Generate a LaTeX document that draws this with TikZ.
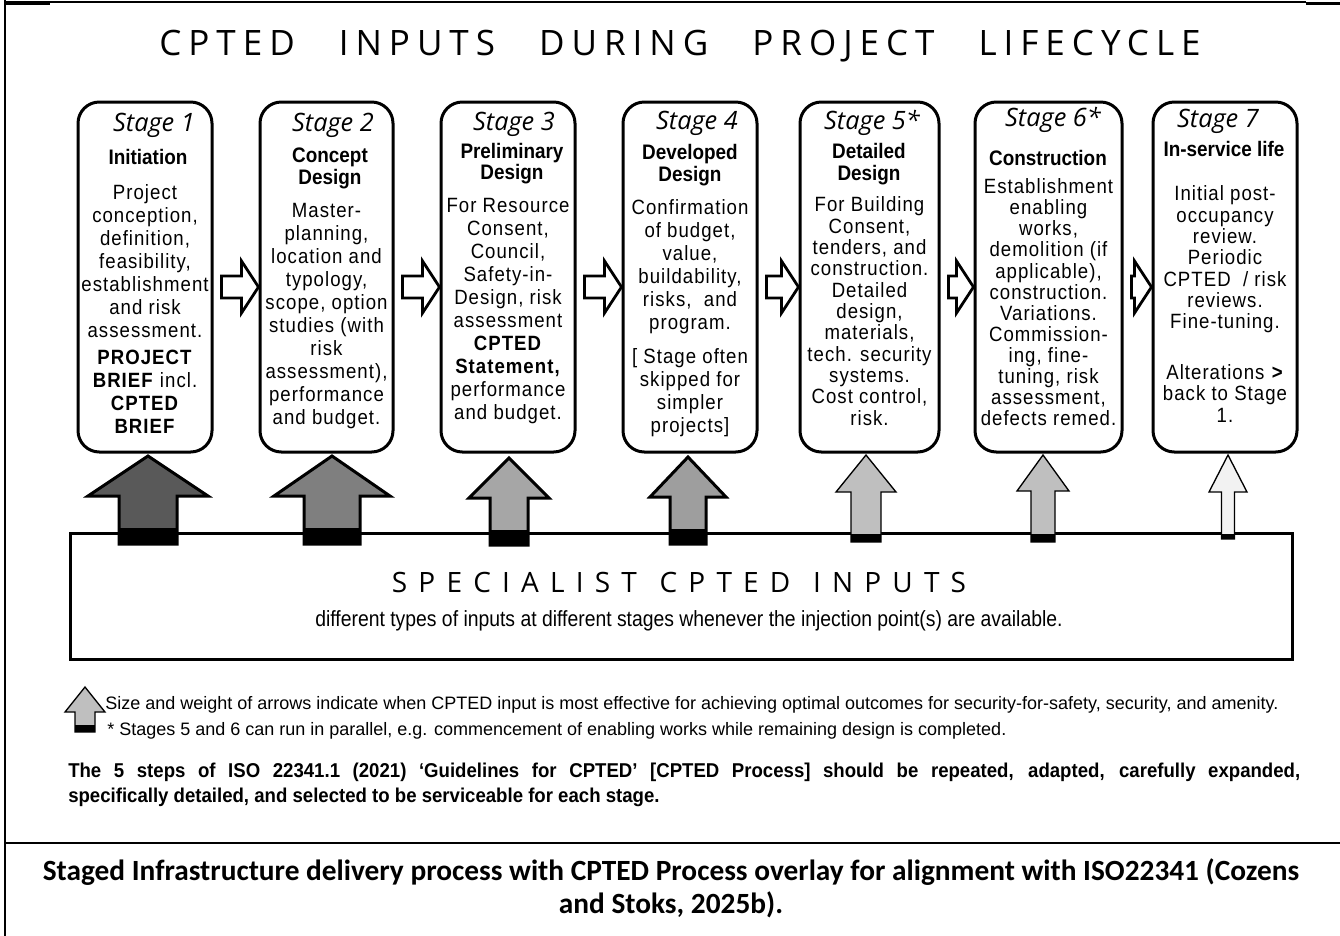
\documentclass[tikz,border=0pt]{standalone}
\usepackage{fontspec}
\setmainfont{Liberation Sans}
\newfontfamily\bodyf{Liberation Sans}[FakeStretch=0.9,LetterSpace=5]
\newfontfamily\headf{Liberation Sans}[FakeStretch=0.9]
\newfontfamily\isof{Liberation Sans}[FakeStretch=0.93]
\newfontfamily\narf{Liberation Sans}[FakeStretch=0.88]
\newfontfamily\legf{Liberation Sans}
\newfontfamily\titlef{Open Sans}[LetterSpace=20]
\newfontfamily\specf{Open Sans}[LetterSpace=40]
\newfontfamily\stagef{Open Sans}
\newfontfamily\capf{Carlito}
\usetikzlibrary{calc}
\definecolor{gA}{HTML}{595959}
\definecolor{gB}{HTML}{7F7F7F}
\definecolor{gC}{HTML}{A6A6A6}
\definecolor{gD}{HTML}{9E9E9E}
\definecolor{gE}{HTML}{BFBFBF}
\definecolor{gF}{HTML}{F2F2F2}
\tikzset{
  stagebox/.style={draw, line width=2.25pt, rounded corners=16pt, minimum height=262.5pt, inner sep=0pt},
  stagelbl/.style={font=\stagef\itshape\fontsize{19}{22}\selectfont, inner sep=0pt},
  headtxt/.style={font=\headf\bfseries\fontsize{15.75}{16.5}\selectfont, align=center, inner sep=0pt, anchor=north},
  bodytxt/.style={font=\bodyf\fontsize{15.5}{17.25}\selectfont, align=center, inner sep=0pt, anchor=north},
  harrow/.style={draw, fill=white, line width=2.1pt, line join=miter},
}
\newcommand\harr[2]{\draw[harrow] let \p1=(#1.east), \p2=(#2.west) in
  (\x1+6pt,\y1+0.75pt) -- (\x2-12.75pt,\y1+0.75pt) -- (\x2-12.75pt,\y1+12pt) -- (\x2,\y1-7.5pt)
  -- (\x2-12.75pt,\y1-27pt) -- (\x2-12.75pt,\y1-15.75pt) -- (\x1+6pt,\y1-15.75pt) -- cycle;}
% cx, tip, headbase, bottom, head half width, shaft half width, fill, line width, band top
\newcommand\uparr[9]{%
  \filldraw[fill=#7, draw=black, line width=#8, line join=miter]
    (#1,#2) -- (#1+#5,#3) -- (#1+#6,#3) -- (#1+#6,#4) -- (#1-#6,#4) -- (#1-#6,#3) -- (#1-#5,#3) -- cycle;
  \fill[black] (#1-#6,#9) rectangle (#1+#6,#4);}
\begin{document}
\begin{tikzpicture}[x=0.75pt,y=-0.75pt]
\useasboundingbox (0,0) rectangle (1340,936);
% frame
\draw[line width=1.2pt] (4,2) -- (1306,2);
\draw[line width=2.25pt] (1306,3) -- (1340,3);
\draw[line width=2.25pt] (4,3) -- (50,3);
\draw[line width=1.5pt] (5,0) -- (5,936);
\draw[line width=2pt] (4,843) -- (1340,843);
% title
\node[font=\titlef\fontsize{26.25}{30}\selectfont, inner sep=0pt] (title) at (680,46)
  {CPTED\hspace{33pt}INPUTS\hspace{33pt}DURING\hspace{33pt}PROJECT\hspace{33pt}LIFECYCLE};
% stage boxes
\node[stagebox, minimum width=100.5pt] (b1) at (145,277) {};
\node[stagebox, minimum width=99.75pt] (b2) at (326.5,277) {};
\node[stagebox, minimum width=100.5pt] (b3) at (508,277) {};
\node[stagebox, minimum width=100.5pt] (b4) at (690,277) {};
\node[stagebox, minimum width=104.25pt] (b5) at (869.5,277) {};
\node[stagebox, minimum width=110.25pt] (b6) at (1048.5,277) {};
\node[stagebox, minimum width=108pt] (b7) at (1225,277) {};
% horizontal arrows
\harr{b1}{b2}
\harr{b2}{b3}
\harr{b3}{b4}
\harr{b4}{b5}
\harr{b5}{b6}
\harr{b6}{b7}
% stage labels
\node[stagelbl] (l1) at (154,125) {Stage 1};
\node[stagelbl] (l2) at (333,125) {Stage 2};
\node[stagelbl] (l3) at (514,124) {Stage 3};
\node[stagelbl] (l4) at (697,123) {Stage 4};
\node[stagelbl] (l5) at (872,123) {Stage 5*};
\node[stagelbl] (l6) at (1053,120) {Stage 6*};
\node[stagelbl] (l7) at (1218,121) {Stage 7};
% heads
\node[headtxt] (h1) at (148,149.3) {Initiation};
\node[headtxt] (h2) at (330,147.3) {Concept\\Design};
\node[headtxt, font=\headf\bfseries\fontsize{15.75}{15.75}\selectfont] (h3) at (512,143.3) {Preliminary\\Design};
\node[headtxt] (h4) at (690,144.3) {Developed\\Design};
\node[headtxt] (h5) at (869,143.3) {Detailed\\Design};
\node[headtxt] (h6) at (1048,150.3) {Construction};
\node[headtxt] (h7) at (1224,141.3) {In-service life};
% bodies
\node[bodytxt] (t1) at (145,184.5) {Project\\conception,\\definition,\\feasibility,\\establishment\\and risk\\assessment.\\[3pt]\textbf{PROJECT}\\\textbf{BRIEF} incl.\\\textbf{CPTED}\\\textbf{BRIEF}};
\node[bodytxt] (t2) at (326.5,203.5) {Master-\\planning,\\location and\\typology,\\scope, option\\studies (with\\risk\\assessment),\\performance\\and budget.};
\node[bodytxt] (t3) at (508,198.5) {For Resource\\Consent,\\Council,\\Safety-in-\\Design, risk\\assessment\\\textbf{CPTED}\\\textbf{Statement,}\\performance\\and budget.};
\node[bodytxt] (t4) at (690,199.5) {Confirmation\\of budget,\\value,\\buildability,\\risks,~~and\\program.\\[8pt]{[} Stage often\\skipped for\\simpler\\projects]};
\node[bodytxt, font=\bodyf\fontsize{15.5}{16}\selectfont] (t5) at (869.5,196.5) {For Building\\Consent,\\tenders, and\\construction.\\Detailed\\design,\\materials,\\tech. security\\systems.\\Cost control,\\risk.};
\node[bodytxt, font=\bodyf\fontsize{15.5}{15.8}\selectfont] (t6) at (1048.5,178.5) {Establishment\\enabling\\works,\\demolition (if\\applicable),\\construction.\\Variations.\\Commission-\\ing, fine-\\tuning, risk\\assessment,\\defects remed.};
\node[bodytxt, font=\bodyf\fontsize{15.5}{16}\selectfont] (t7) at (1225,185.5) {Initial post-\\occupancy\\review.\\Periodic\\CPTED~~/ risk\\reviews.\\Fine-tuning.\\[22pt]Alterations \textbf{>}\\back to Stage\\1.};
% specialist box
\node[draw, line width=2.25pt, minimum width=916.5pt, minimum height=94.5pt, inner sep=0pt] (spec) at (681,596) {};
\node[font=\specf\fontsize{21}{24}\selectfont, inner sep=0pt] (spect) at (679,582)
  {SPECIALIST\hspace{17pt}CPTED\hspace{17pt}INPUTS};
\node[font=\narf\fontsize{16.5}{18}\selectfont, inner sep=0pt] (specs) at (689,621)
  {different types of inputs at different stages whenever the injection point(s) are available.};
% vertical arrows
\uparr{148}{456}{496}{544}{60}{29}{gA}{2.25pt}{528}
\uparr{332}{456}{496}{544}{58}{28}{gB}{2.25pt}{528}
\uparr{509}{458}{498}{545}{40}{19}{gC}{2.25pt}{530}
\uparr{688}{457}{497}{544}{38}{18}{gD}{2.25pt}{529}
\uparr{866}{455}{492}{542}{30}{15}{gE}{1pt}{534}
\uparr{1043}{455}{491}{542}{26}{12}{gE}{1pt}{534}
\uparr{1228}{455}{492}{539}{19}{6.5}{gF}{1pt}{534}
% legend
\uparr{85}{687}{712}{732}{20}{10}{gE}{1pt}{725}
\node[anchor=west, font=\legf\fontsize{13.5}{15}\selectfont, inner sep=0pt] (leg1) at (105,705)
  {Size and weight of arrows indicate when CPTED input is most effective for achieving optimal outcomes for security-for-safety, security, and amenity.};
\node[anchor=west, font=\legf\fontsize{13.5}{15}\selectfont, inner sep=0pt] (leg2) at (107,731)
  {* Stages 5 and 6 can run in parallel, e.g. commencement of enabling works while remaining design is completed.};
\node[anchor=north west, text width=924pt, align=justify, font=\isof\bfseries\fontsize{15}{18.75}\selectfont, inner sep=0pt] (iso) at (68,763)
  {The 5 steps of ISO 22341.1 (2021) ‘Guidelines for CPTED’ [CPTED Process] should be repeated, adapted, carefully expanded,\linebreak specifically detailed, and selected to be serviceable for each stage.};
% caption
\node[font=\capf\bfseries\fontsize{22}{24.75}\selectfont, align=center, inner sep=0pt] (cap) at (671,888)
  {Staged Infrastructure delivery process with CPTED Process overlay for alignment with ISO22341 (Cozens\\and Stoks, 2025b).};
\end{tikzpicture}
\end{document}
